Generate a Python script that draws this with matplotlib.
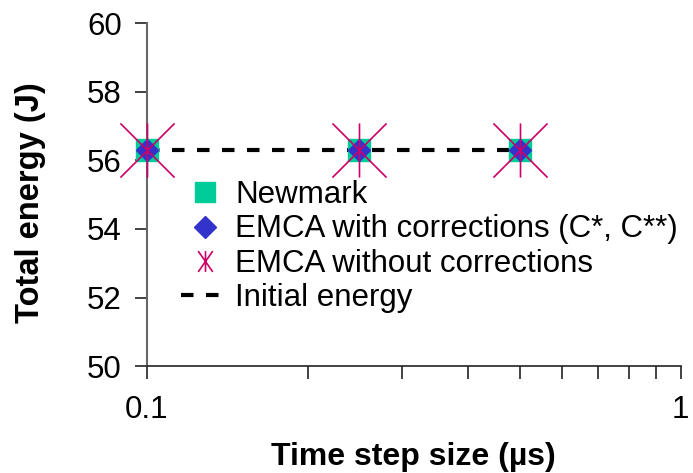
import numpy as np
import matplotlib.pyplot as plt
from matplotlib.path import Path
from matplotlib.lines import Line2D
from matplotlib.ticker import NullFormatter

plt.rcParams['font.family'] = ['Liberation Sans', 'DejaVu Sans']

# data
dt = [0.1, 0.25, 0.5]
newmark = [56.3, 56.3, 56.3]
emca_corr = [56.3, 56.3, 56.3]
emca_nocorr = [56.3, 56.3, 56.3]
initial_energy = 56.3

green = '#00CC99'
blue = '#3333CC'
magenta = '#CC0066'

# asterisk marker: X plus a vertical bar
star = Path([(-1, -1), (1, 1), (-1, 1), (1, -1), (0, -1), (0, 1)],
            [Path.MOVETO, Path.LINETO, Path.MOVETO, Path.LINETO, Path.MOVETO, Path.LINETO])
star_small = Path([(-0.7, -1), (0.7, 1), (-0.7, 1), (0.7, -1), (0, -1), (0, 1)],
                  [Path.MOVETO, Path.LINETO, Path.MOVETO, Path.LINETO, Path.MOVETO, Path.LINETO])

fig, ax = plt.subplots(figsize=(6.93, 4.73), dpi=100)
fig.subplots_adjust(left=0.212, right=0.982, bottom=0.226, top=0.951)

ax.plot(dt, [initial_energy] * len(dt), color='black', ls=(0, (3, 3)), lw=3, zorder=1)
ax.plot(dt, newmark, ls='none', marker='s', ms=16, mfc=green, mec=green, zorder=2, clip_on=False)
ax.plot(dt, emca_corr, ls='none', marker='D', ms=11, mfc=blue, mec=blue, zorder=3, clip_on=False)
ax.plot(dt, emca_nocorr, ls='none', marker=star, ms=39, mfc='none', mec=magenta, mew=1.2,
        zorder=4, clip_on=False)

ax.set_xscale('log')
ax.set_xlim(0.1, 1)
ax.set_ylim(50, 60)
ax.set_yticks(np.arange(50, 61, 2))
ax.set_xticks([0.1, 1])
ax.set_xticklabels(['0.1', '1'])
ax.xaxis.set_minor_formatter(NullFormatter())
ax.tick_params(axis='both', labelsize=22.5, direction='out', length=9, width=1.2, colors='#222222')
ax.tick_params(axis='x', which='minor', direction='out', length=9, width=1.2, colors='#222222')
ax.tick_params(axis='x', pad=12, labelcolor='black')
ax.tick_params(axis='y', pad=9, labelcolor='black')

for s in ['top', 'right']:
    ax.spines[s].set_visible(False)
ax.spines['left'].set_color('#666666')
ax.spines['left'].set_linewidth(1.5)
ax.spines['bottom'].set_color('#222222')
ax.spines['bottom'].set_linewidth(1.2)

ax.set_xlabel('Time step size (µs)', fontsize=23, fontweight='bold', labelpad=12)
ax.set_ylabel('Total energy (J)', fontsize=23.5, fontweight='bold')
ax.yaxis.set_label_coords(-0.189, 0.478)

handles = [
    Line2D([], [], ls='none', marker='s', ms=15, mfc=green, mec=green),
    Line2D([], [], ls='none', marker='D', ms=11, mfc=blue, mec=blue),
    Line2D([], [], ls='none', marker=star_small, ms=15, mfc='none', mec=magenta, mew=1.2),
    Line2D([], [], color='black', ls=(0, (3, 3)), lw=3),
]
labels = ['Newmark', 'EMCA with corrections (C*, C**)', 'EMCA without corrections', 'Initial energy']
ax.legend(handles, labels, loc='upper left', bbox_to_anchor=(0.035, 0.588), frameon=False,
          fontsize=22.5, handlelength=1.5, handletextpad=0.22, labelspacing=0.14, borderpad=0)

fig.savefig('out.png', dpi=100)
